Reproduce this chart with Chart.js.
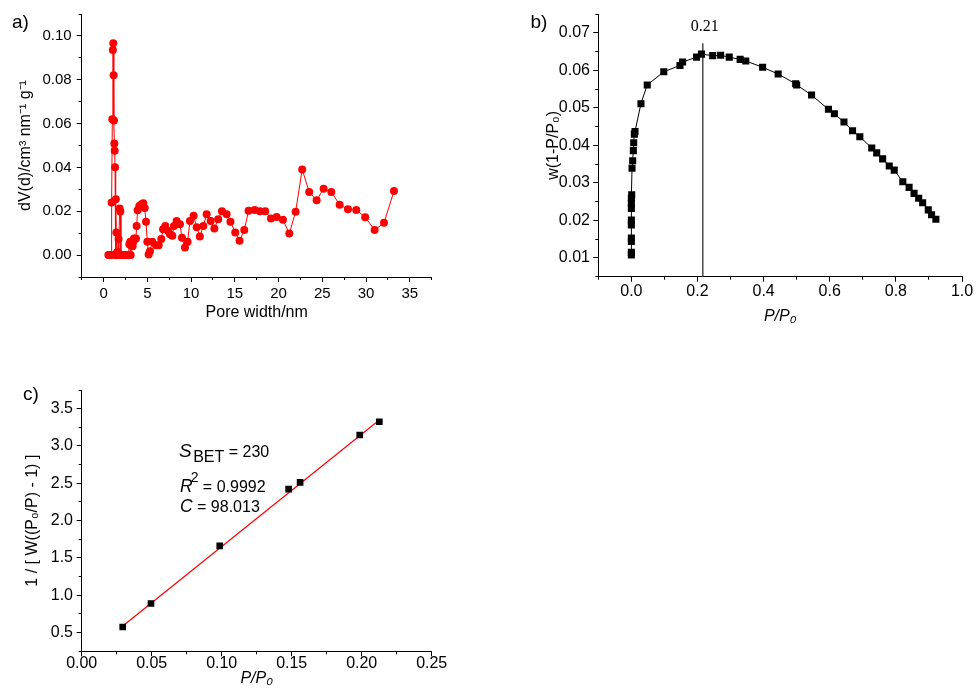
<!DOCTYPE html>
<html><head><meta charset="utf-8">
<script src="https://cdn.jsdelivr.net/npm/chart.js"></script>
<style>
html,body{margin:0;padding:0;background:#fff;}
body{width:977px;height:692px;position:relative;overflow:hidden;}
canvas{position:absolute;}
</style></head>
<body>
<canvas id="ca" width="440" height="330" style="left:0;top:0"></canvas>
<canvas id="cb" width="447" height="330" style="left:530px;top:0"></canvas>
<canvas id="cc" width="460" height="322" style="left:0;top:370px"></canvas>
<script>
// ---------- Panel a: pore size distribution ----------
const poreWidth = [0.55,0.65,0.75,0.85,0.92,1.00,1.06,1.11,1.15,1.19,
  1.23,1.27,1.31,1.36,1.40,1.46,1.52,1.58,1.65,1.71,
  1.76,1.83,1.92,1.98,2.10,2.25,2.40,2.55,2.70,2.85,
  2.95,3.05,3.10,3.18,3.25,3.32,3.40,3.47,3.62,3.70,
  3.78,3.89,4.08,4.35,4.54,4.70,4.85,5.00,5.15,5.30,
  5.57,5.99,6.30,6.60,6.80,7.06,7.36,7.59,7.86,8.05,
  8.35,8.73,8.96,9.30,9.60,9.87,10.29,10.64,11.00,11.40,
  11.78,12.24,12.66,13.10,13.53,14.06,14.50,15.05,15.54,16.08,
  16.57,17.26,17.87,18.48,19.13,19.78,20.50,21.23,21.95,22.70,
  23.50,24.35,25.15,26.03,26.98,27.93,28.88,29.90,30.98,32.05,33.19];
const dVd = [0,0,0,0,0.024,0.062,0.0936,0.0967,0.082,0.0614,
  0.0509,0.0476,0.0401,0,0.0255,0.0103,0.0012,0,0.0014,0.0073,
  0,0.0212,0.0199,0,0,0,0,0,0,0,
  0.005,0.0061,0,0.0043,0.0045,0.004,0.0061,0.0076,0.0074,0.0076,
  0.0133,0.0205,0.0224,0.0232,0.0236,0.0215,0.0152,0.0061,0.0003,0.0017,
  0.0061,0.0045,0.0045,0.0073,0.0118,0.0133,0.011,0.0095,0.0088,0.0133,
  0.0156,0.0141,0.0079,0.0035,0.0061,0.0156,0.0179,0.0127,0.0085,0.0133,
  0.0186,0.0156,0.0121,0.0164,0.02,0.0186,0.0152,0.0103,0.0065,0.0114,
  0.0202,0.0206,0.02,0.02,0.0167,0.0174,0.0161,0.0098,0.0198,0.0391,
  0.0288,0.025,0.0303,0.0288,0.023,0.0209,0.0206,0.0173,0.0114,0.0147,0.0292];
const aXTicks = [0,5,10,15,20,25,30,35];
const aYTicks = [0,0.02,0.04,0.06,0.08,0.10];

// ---------- Panel b: Rouquerol plot ----------
const relP = [0,0,0,0,0,0,0,0,0,0.001,
  0.002,0.004,0.006,0.007,0.009,0.011,
  0.029,0.048,0.098,0.147,0.155,0.197,0.212,0.246,0.270,0.296,
  0.329,0.346,0.397,0.444,0.497,0.500,0.545,0.596,0.614,0.643,
  0.669,0.691,0.727,0.742,0.760,0.780,0.795,0.821,0.840,0.855,
  0.869,0.881,0.898,0.908,0.921];
const wTerm = [0.0108,0.0115,0.0144,0.0153,0.0188,0.0201,0.0232,0.0245,0.0259,0.0268,
  0.0339,0.0359,0.0386,0.0407,0.0430,0.0437,
  0.0511,0.0561,0.0596,0.0613,0.0622,0.0635,0.0643,0.0639,0.0640,0.0635,
  0.0629,0.0625,0.0608,0.0590,0.0564,0.0561,0.0534,0.0496,0.0484,0.0462,
  0.0439,0.0423,0.0393,0.0380,0.0364,0.0345,0.0334,0.0303,0.0288,0.0272,
  0.0259,0.0247,0.0228,0.0215,0.0203];
const markX = [0.216, 0.216];
const markY = [0.005, 0.0672];
const markLabel = '0.21';
const bXTicks = [0,0.2,0.4,0.6,0.8,1.0];
const bYTicks = [0.01,0.02,0.03,0.04,0.05,0.06,0.07];

// ---------- Panel c: BET plot ----------
const betP = [0.0293,0.0495,0.0986,0.1478,0.156,0.1986,0.2126];
const betY = [0.576,0.89,1.663,2.423,2.513,3.147,3.325];
const fitX = [0.0293,0.2126];
const fitY = [0.59,3.348];
const cXTicks = [0,0.05,0.10,0.15,0.20,0.25];
const cYTicks = [0.5,1.0,1.5,2.0,2.5,3.0,3.5];

// ---------- helpers ----------
const FONT = "'Liberation Sans', Arial, Helvetica, sans-serif";
Chart.defaults.font.family = FONT;
Chart.defaults.color = '#000';

function range(a, b, s) {
  const out = []; const n = Math.round((b - a) / s);
  for (let i = 0; i <= n; i++) out.push(+(a + i * s).toFixed(6));
  return out;
}
function pts(xs, ys) { return xs.map((x, i) => ({x: x, y: ys[i]})); }

function axisPair(pos, o) {
  const horiz = pos === 'bottom';
  const major = {
    type: 'linear', position: pos, min: o.min, max: o.max, weight: 0,
    afterBuildTicks: s => { s.ticks = o.major.map(v => ({value: v})); },
    afterFit: s => { if (horiz) s.height = o.size; else s.width = o.size; },
    ticks: {autoSkip: false, maxRotation: 0, minRotation: 0, padding: o.pad, color: '#000',
      font: {family: FONT, size: o.fs}, callback: v => Number(v).toFixed(o.dec)},
    grid: {display: true, drawOnChartArea: false, drawTicks: true, tickLength: 5, tickColor: '#000', tickWidth: 1},
    border: {display: true, color: '#000', width: 1},
    title: {display: true, text: o.title, color: '#000',
      font: {family: FONT, size: 16, style: o.italic ? 'italic' : 'normal'},
      padding: horiz ? {top: 0, bottom: o.tpad} : {top: o.tpad, bottom: 0}}
  };
  const minor = {
    type: 'linear', position: pos, min: o.min, max: o.max, weight: -1,
    afterBuildTicks: s => { s.ticks = o.minor.map(v => ({value: v})); },
    afterFit: s => { if (horiz) s.height = 0; else s.width = 0; },
    ticks: {display: false},
    grid: {display: true, drawOnChartArea: false, drawTicks: true, tickLength: 3, tickColor: '#000', tickWidth: 1},
    border: {display: false}
  };
  return [major, minor];
}

function textPlugin(lines, extra) {
  return {
    id: 'texts',
    afterDraw(chart) {
      const ctx = chart.ctx;
      ctx.save();
      ctx.fillStyle = '#000';
      ctx.textAlign = 'left';
      ctx.textBaseline = 'alphabetic';
      for (const line of lines) {
        let x = line.x;
        for (const r of line.parts) {
          ctx.font = r.font;
          x += (r.dx || 0);
          ctx.fillText(r.t, x, line.y + (r.dy || 0));
          x += ctx.measureText(r.t).width;
        }
      }
      if (extra) extra(chart, ctx);
      ctx.restore();
    }
  };
}

function makeChart(id, datasets, scales, padding, plugins) {
  return new Chart(document.getElementById(id), {
    type: 'scatter',
    data: {datasets: datasets},
    options: {
      responsive: false, animation: false, devicePixelRatio: 1,
      layout: {padding: padding},
      plugins: {legend: {display: false}, tooltip: {enabled: false}},
      scales: scales,
      elements: {line: {tension: 0}}
    },
    plugins: plugins
  });
}

// ---------- Chart a ----------
(function () {
  const [x, xm] = axisPair('bottom', {min: -2.5, max: 37.5, major: aXTicks, minor: range(-2.5, 37.5, 2.5),
    dec: 0, fs: 15, pad: 2.6, size: 53, title: 'Pore width/nm', tpad: 7.8});
  const [y, ym] = axisPair('left', {min: -0.01, max: 0.11, major: aYTicks, minor: range(-0.01, 0.11, 0.01),
    dec: 2, fs: 15, pad: 5, size: 81.7, title: 'dV(d)/cm³ nm⁻¹ g⁻¹', tpad: 16.4});
  makeChart('ca', [{
    data: pts(poreWidth, dVd), showLine: true, borderColor: '#ff0000', borderWidth: 1,
    pointStyle: 'circle', pointRadius: 4, pointBackgroundColor: '#ff0000', pointBorderWidth: 0
  }], {x: x, xm: xm, y: y, ym: ym}, {left: 0, top: 14, right: 8.3, bottom: 0},
  [textPlugin([{x: 12, y: 27.5, parts: [{t: 'a)', font: '19px ' + FONT}]}])]);
})();

// ---------- Chart b ----------
(function () {
  const [x, xm] = axisPair('bottom', {min: -0.1, max: 1.0, major: bXTicks, minor: range(-0.1, 1.0, 0.1),
    dec: 1, fs: 16, pad: 0.4, size: 53.3, title: 'P/P₀', italic: true, tpad: 3.4});
  const [y, ym] = axisPair('left', {min: 0.005, max: 0.075, major: bYTicks, minor: range(0.005, 0.075, 0.005),
    dec: 2, fs: 16, pad: 3.3, size: 68.3, title: 'w(1-P/P₀)', tpad: 14.4});
  makeChart('cb', [
    {data: pts(relP, wTerm), showLine: true, borderColor: '#000', borderWidth: 1,
      pointStyle: 'rect', pointRadius: 5, pointBackgroundColor: '#000', pointBorderWidth: 0},
    {data: pts(markX, markY), showLine: true, borderColor: '#4a4a4a', borderWidth: 1.5, pointRadius: 0}
  ], {x: x, xm: xm, y: y, ym: ym}, {left: 0, top: 14, right: 15, bottom: 0},
  [textPlugin([{x: 0.5, y: 28, parts: [{t: 'b)', font: '19px ' + FONT}]}], (chart, ctx) => {
    ctx.font = "16px 'Liberation Serif', 'Times New Roman', serif";
    ctx.textAlign = 'center';
    ctx.fillText(markLabel, chart.scales.x.getPixelForValue(markX[0]) + 2, 31);
  })]);
})();

// ---------- Chart c ----------
(function () {
  const [x, xm] = axisPair('bottom', {min: 0, max: 0.25, major: cXTicks, minor: range(0, 0.25, 0.025),
    dec: 2, fs: 16, pad: -2, size: 40.7, title: 'P/P₀', italic: true, tpad: 3.6});
  const [y, ym] = axisPair('left', {min: 0.25, max: 3.75, major: cYTicks, minor: range(0.25, 3.75, 0.25),
    dec: 1, fs: 16, pad: 3.7, size: 81.7, title: '1 / [ W((P₀/P) - 1) ]', tpad: 23.4});
  const F16 = '16px ' + FONT;
  makeChart('cc', [
    {data: pts(betP, betY), showLine: false, pointStyle: 'rect', pointRadius: 4.7,
      pointBackgroundColor: '#000', pointBorderWidth: 0},
    {data: pts(fitX, fitY), showLine: true, borderColor: '#ff0000', borderWidth: 1.2, pointRadius: 0}
  ], {x: x, xm: xm, y: y, ym: ym}, {left: 0, top: 20, right: 28.3, bottom: 0},
  [textPlugin([
    {x: 23, y: 30, parts: [{t: 'c)', font: '19px ' + FONT}]},
    {x: 179, y: 87, parts: [{t: 'S', font: 'italic 19px ' + FONT}, {t: 'BET', font: F16, dx: 1.5, dy: 5}, {t: ' = 230', font: F16}]},
    {x: 180, y: 121.7, parts: [{t: 'R', font: 'italic 17.5px ' + FONT}, {t: '2', font: '14px ' + FONT, dx: -2, dy: -10}, {t: ' = 0.9992', font: F16}]},
    {x: 180, y: 141.7, parts: [{t: 'C', font: 'italic 17.5px ' + FONT}, {t: ' = 98.013', font: F16}]}
  ])]);
})();
</script>
</body></html>
